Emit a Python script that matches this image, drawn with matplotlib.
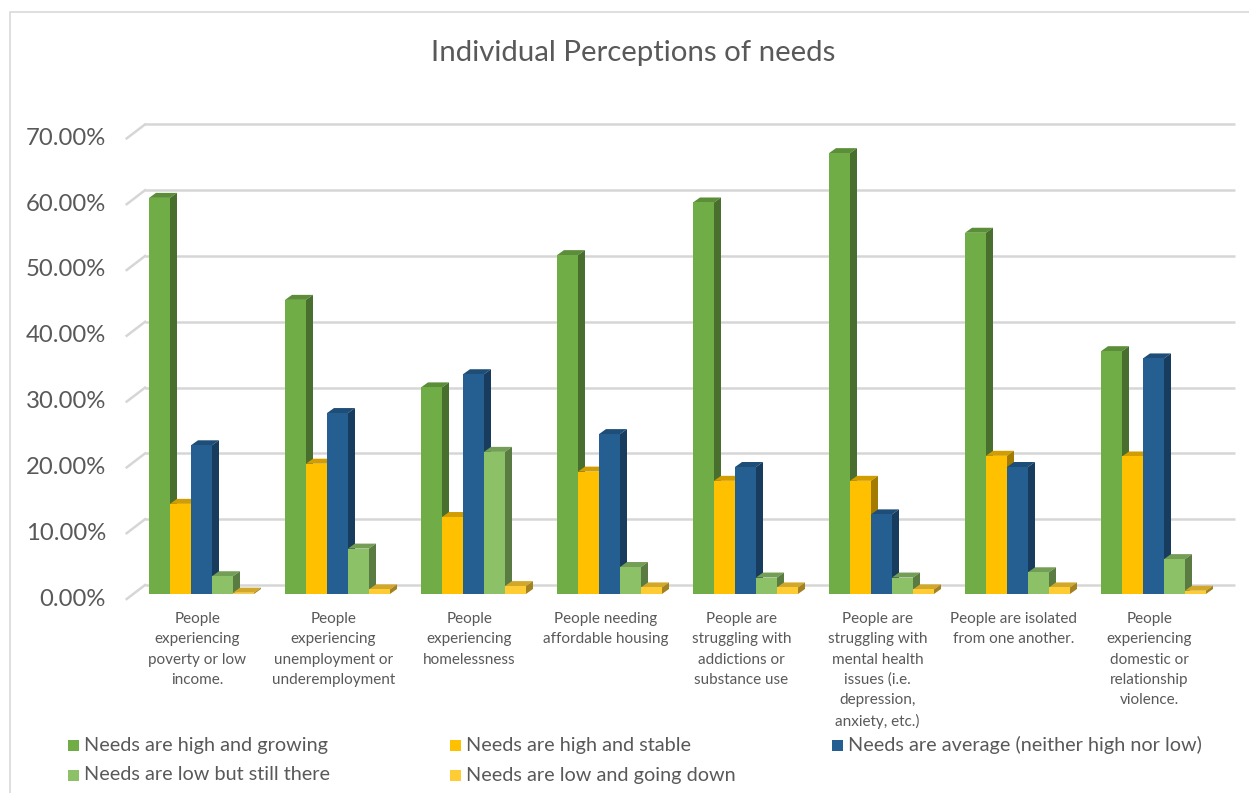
import matplotlib
matplotlib.use("Agg")
import matplotlib.pyplot as plt
from matplotlib.patches import Polygon, Rectangle
import matplotlib.colors as mcolors
import numpy as np

plt.rcParams['font.family'] = ['Lato', 'DejaVu Sans']

categories = [
    "People\nexperiencing\npoverty or low\nincome.",
    "People\nexperiencing\nunemployment or\nunderemployment",
    "People\nexperiencing\nhomelessness",
    "People needing\naffordable housing",
    "People are\nstruggling with\naddictions or\nsubstance use",
    "People are\nstruggling with\nmental health\nissues (i.e.\ndepression,\nanxiety, etc.)",
    "People are isolated\nfrom one another.",
    "People\nexperiencing\ndomestic or\nrelationship\nviolence.",
]

series_names = [
    "Needs are high and growing",
    "Needs are high and stable",
    "Needs are average (neither high nor low)",
    "Needs are low but still there",
    "Needs are low and going down",
]

high_growing = [0.602, 0.447, 0.314, 0.515, 0.595, 0.670, 0.549, 0.369]
high_stable = [0.137, 0.198, 0.117, 0.186, 0.172, 0.172, 0.210, 0.209]
average = [0.226, 0.275, 0.334, 0.243, 0.193, 0.121, 0.193, 0.358]
low_still = [0.027, 0.069, 0.216, 0.041, 0.025, 0.025, 0.033, 0.053]
low_down = [0.002, 0.007, 0.012, 0.010, 0.010, 0.007, 0.010, 0.005]

series = [high_growing, high_stable, average, low_still, low_down]
colors = ["#70AD47", "#FFC000", "#255E91", "#8CC168", "#FFCD33"]

yticks = [0.0, 0.1, 0.2, 0.3, 0.4, 0.5, 0.6, 0.7]

TEXT = "#595959"
GRID = "#D6D6D6"


def shade(c, f):
    r, g, b = mcolors.to_rgb(c)
    return (r * f, g * f, b * f)


fig = plt.figure(figsize=(12.49, 7.93), dpi=100)

# chart border
fig.patches.append(Rectangle((9.5 / 1249, -0.01), 1.05, (793 - 12) / 793 + 0.01,
                             transform=fig.transFigure, fill=False,
                             edgecolor="#D9D9D9", linewidth=1.2))

ax = fig.add_axes([133.5 / 1249, (793 - 594) / 793, 1088 / 1249, 0.7 * 658 / 793])
ax.set_xlim(-0.5, 7.5)
ax.set_ylim(0, 0.7)
ax.axis("off")

# pixel -> data helpers for the pseudo 3D depth
px_x = 1 / 136
px_y = 1 / 658

# back wall gridlines and left floor ticks
wall_back_x = -0.415
wall_front_x = -0.55
back_dy = 9 * px_y
front_dy = -5 * px_y
for v in yticks:
    ax.plot([wall_back_x, 7.6], [v + back_dy, v + back_dy], color=GRID, lw=1.8,
            clip_on=False, zorder=1, solid_capstyle="butt")
    ax.plot([wall_front_x, wall_back_x], [v + front_dy, v + back_dy], color=GRID,
            lw=1.8, clip_on=False, zorder=1)
    ax.text(-0.702, v + front_dy, f"{v * 100:.2f}%", ha="right", va="center",
            fontsize=17.2, color=TEXT, clip_on=False)

# 3D-looking bars
w = 21 * px_x
dx = 7 * px_x
dy = 5 * px_y
x = np.arange(len(categories))
for j, (vals, c) in enumerate(zip(series, colors)):
    left = x + (j - 2.5) * w
    z = 3 + j
    ax.bar(left, vals, width=w, align="edge", color=c, edgecolor="none",
           zorder=z + 0.2, clip_on=False)
    for xl, v in zip(left, vals):
        top = Polygon([(xl, v), (xl + dx, v + dy), (xl + w + dx, v + dy), (xl + w, v)],
                      closed=True, facecolor=shade(c, 0.82), edgecolor="none",
                      zorder=z, clip_on=False)
        side = Polygon([(xl + w, 0), (xl + w + dx, dy), (xl + w + dx, v + dy), (xl + w, v)],
                       closed=True, facecolor=shade(c, 0.64), edgecolor="none",
                       zorder=z, clip_on=False)
        ax.add_patch(top)
        ax.add_patch(side)

# category labels
for i, lab in enumerate(categories):
    ax.text(i - 0.03, -0.028, lab, ha="center", va="top", fontsize=11,
            color=TEXT, linespacing=1.55, clip_on=False)

# title
fig.text(633 / 1249, (793 - 53) / 793, "Individual Perceptions of needs",
         ha="center", va="center", fontsize=21.2, color=TEXT)

# legend, laid out row by row like the original
for k, (name, c) in enumerate(zip(series_names, colors)):
    col, row = k % 3, k // 3
    lx = 68 + col * 382
    ly = 745 + row * 30
    fig.patches.append(Rectangle((lx / 1249, (793 - ly - 5.5) / 793), 11 / 1249, 11 / 793,
                                 transform=fig.transFigure, facecolor=c,
                                 edgecolor="none"))
    fig.text((lx + 16) / 1249, (793 - ly) / 793, name, ha="left", va="center",
             fontsize=14.3, color=TEXT)

fig.savefig("out.png", dpi=100, facecolor="white")
